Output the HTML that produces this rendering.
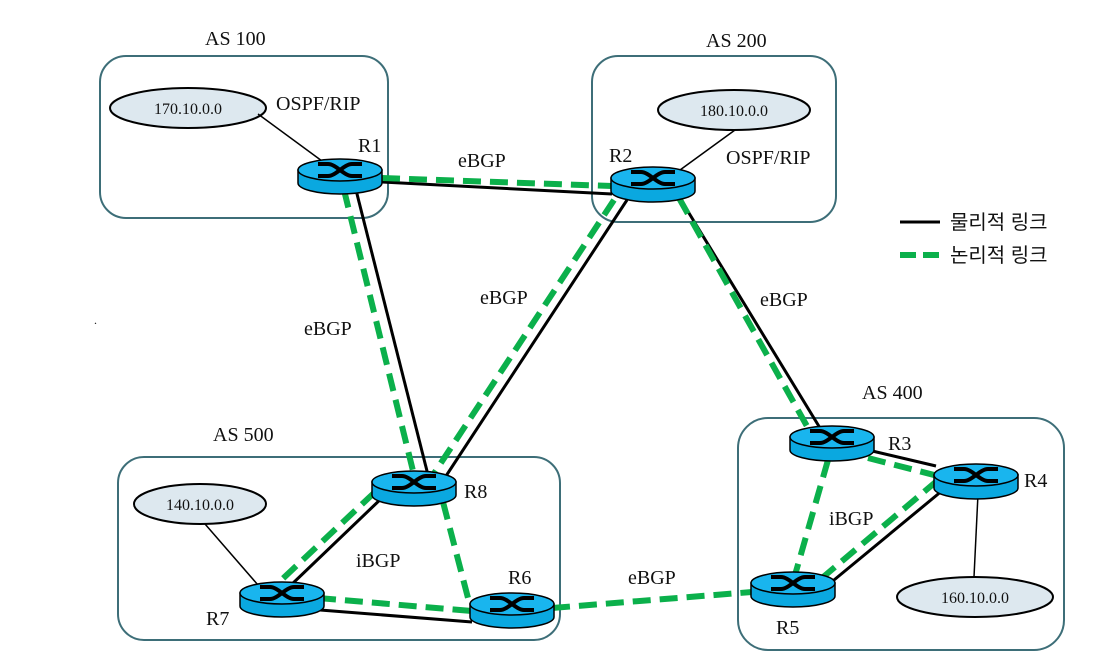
<!DOCTYPE html>
<html><head><meta charset="utf-8"><style>
html,body{margin:0;padding:0;background:#fff;width:1108px;height:672px;overflow:hidden}
svg{display:block}
text{font-family:"Liberation Serif",serif;fill:#111}
</style></head><body>
<svg width="1108" height="672" viewBox="0 0 1108 672" xmlns="http://www.w3.org/2000/svg">
<defs>
<g id="rt">
<path d="M-42,0 L-42,13 A42,11 0 0 0 42,13 L42,0 Z" fill="#0aa8e0" stroke="#000" stroke-width="1.5"/>
<ellipse cx="0" cy="0" rx="42" ry="11" fill="#19b5ee" stroke="#000" stroke-width="1.5"/>
<path d="M-22,-6 L-12,-6 C-4,-6 4,6 12,6 L22,6 M-22,6 L-12,6 C-4,6 4,-6 12,-6 L22,-6" fill="none" stroke="#000" stroke-width="4"/>
</g>
</defs>
<g fill="none" stroke="#3d6e78" stroke-width="2">
<rect x="100" y="56" width="288" height="162" rx="26"/>
<rect x="592" y="56" width="244" height="166" rx="26"/>
<rect x="118" y="457" width="442" height="183" rx="26"/>
<rect x="738" y="418" width="326" height="232" rx="30"/>
</g>
<g font-size="20">
<text x="205" y="45">AS 100</text>
<text x="706" y="47">AS 200</text>
<text x="213" y="441">AS 500</text>
<text x="862" y="399">AS 400</text>
</g>
<g fill="#dde8ef" stroke="#000" stroke-width="2">
<ellipse cx="188" cy="108" rx="78" ry="20"/>
<ellipse cx="734" cy="110" rx="76" ry="20"/>
<ellipse cx="200" cy="504" rx="66" ry="20"/>
<ellipse cx="975" cy="597" rx="78" ry="20"/>
</g>
<g font-size="16" text-anchor="middle">
<text x="188" y="114">170.10.0.0</text>
<text x="734" y="116">180.10.0.0</text>
<text x="200" y="510">140.10.0.0</text>
<text x="975" y="603">160.10.0.0</text>
</g>
<g stroke="#000" stroke-width="1.5">
<line x1="258" y1="114" x2="322" y2="161"/>
<line x1="735" y1="130" x2="680" y2="170"/>
<line x1="205" y1="524" x2="258" y2="585"/>
<line x1="978" y1="494" x2="974" y2="577"/>
</g>
<g stroke="#000" stroke-width="3">
<line x1="382" y1="182" x2="612" y2="194"/>
<line x1="356" y1="190" x2="428" y2="475"/>
<line x1="627" y1="200" x2="446" y2="476"/>
<line x1="681" y1="200" x2="820" y2="428"/>
<line x1="868" y1="450" x2="936" y2="466"/>
<line x1="943" y1="490" x2="834" y2="580"/>
<line x1="385" y1="495" x2="290" y2="586"/>
<line x1="320" y1="610" x2="472" y2="622"/>
</g>
<g stroke="#0bb04b" stroke-width="6" stroke-dasharray="18,9" fill="none">
<line x1="382" y1="178" x2="612" y2="186"/>
<line x1="344" y1="190" x2="414" y2="475"/>
<line x1="614" y1="200" x2="433" y2="475"/>
<line x1="679" y1="198" x2="808" y2="428"/>
<line x1="868" y1="458" x2="938" y2="476"/>
<line x1="938" y1="480" x2="822" y2="578"/>
<line x1="828" y1="460" x2="795" y2="575"/>
<line x1="375" y1="492" x2="276" y2="585"/>
<line x1="318" y1="598" x2="472" y2="611"/>
<line x1="443" y1="502" x2="468" y2="598"/>
<line x1="552" y1="608" x2="752" y2="592"/>
</g>
<use href="#rt" x="340" y="170"/>
<use href="#rt" x="653" y="178"/>
<use href="#rt" x="832" y="437"/>
<use href="#rt" x="976" y="475"/>
<use href="#rt" x="793" y="583"/>
<use href="#rt" x="512" y="604"/>
<use href="#rt" x="282" y="593"/>
<use href="#rt" x="414" y="482"/>
<g font-size="20">
<text x="358" y="152">R1</text>
<text x="609" y="162">R2</text>
<text x="888" y="450">R3</text>
<text x="1024" y="487">R4</text>
<text x="776" y="634">R5</text>
<text x="508" y="584">R6</text>
<text x="206" y="625">R7</text>
<text x="464" y="498">R8</text>
<text x="276" y="110">OSPF/RIP</text>
<text x="726" y="164">OSPF/RIP</text>
<text x="458" y="167">eBGP</text>
<text x="304" y="335">eBGP</text>
<text x="480" y="304">eBGP</text>
<text x="760" y="306">eBGP</text>
<text x="628" y="584">eBGP</text>
<text x="356" y="567">iBGP</text>
<text x="829" y="525">iBGP</text>
</g>
<text x="94" y="324" font-size="12">.</text>
<line x1="900" y1="222" x2="940" y2="222" stroke="#000" stroke-width="3"/>
<line x1="900" y1="255" x2="942" y2="255" stroke="#0bb04b" stroke-width="6" stroke-dasharray="16,7"/>
<text x="950" y="229" font-size="20" style="font-family:'Liberation Sans','Noto Sans CJK KR',sans-serif">물리적 링크</text>
<text x="950" y="262" font-size="20" style="font-family:'Liberation Sans','Noto Sans CJK KR',sans-serif">논리적 링크</text>
</svg>
</body></html>
